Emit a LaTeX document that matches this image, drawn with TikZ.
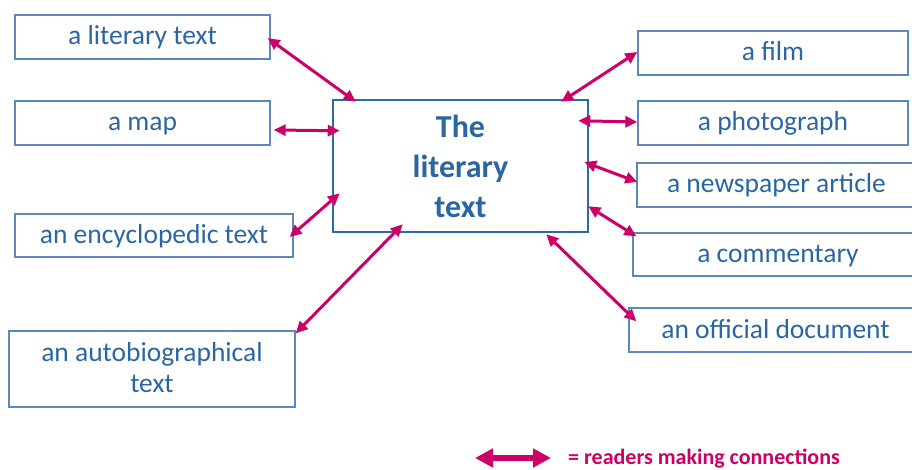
\documentclass[tikz,border=0pt]{standalone}
\usepackage{fontspec}
\setmainfont{Carlito}
\usepackage{tikz}
\usetikzlibrary{arrows.meta}

\definecolor{txtblue}{HTML}{2A66A3}
\definecolor{boxblue}{HTML}{5B89BD}
\definecolor{midblue}{HTML}{2E6AA7}
\definecolor{linkpink}{HTML}{CC0066}

\begin{document}
\begin{tikzpicture}[x=1pt,y=-1pt,
	src/.style={rectangle,draw=boxblue,line width=1.3pt,text=txtblue,font=\fontsize{27.5}{31}\selectfont,inner sep=0pt,align=center,text height=20pt,text depth=4pt},
	link/.style={{Triangle[length=12pt,width=11pt]}-{Triangle[length=12pt,width=11pt]},draw=linkpink,line width=3pt}]
	\useasboundingbox (0,0) rectangle (912,470);
	% sources on the left
	\node[src,minimum width=255pt,minimum height=44pt] (lit) at (142.5,37) {a literary text};
	\node[src,minimum width=255pt,minimum height=44pt] (map) at (142.5,123) {a map};
	\node[src,minimum width=278pt,minimum height=43pt] (enc) at (154,235.5) {an encyclopedic text};
	\node[src,text height=51pt,minimum width=286pt,minimum height=76pt] (auto) at (152,369) {an autobiographical\\text};
	% the text in the middle
	\node[rectangle,draw=midblue,line width=2.5pt,text=txtblue,font=\fontsize{32}{40}\selectfont\bfseries,align=center,inner sep=0pt,minimum width=255pt,minimum height=132pt] (centre) at (460.5,166) {The\\literary\\text};
	% sources on the right
	\node[src,minimum width=270pt,minimum height=44pt] (film) at (773,53) {a film};
	\node[src,minimum width=270pt,minimum height=44pt] (photo) at (773,123) {a photograph};
	\node[src,minimum width=279pt,minimum height=44pt] (news) at (776.5,185) {a newspaper article};
	\node[src,minimum width=290pt,minimum height=43pt] (comm) at (778,254.5) {a commentary};
	\node[src,minimum width=293pt,minimum height=44pt] (off) at (775.5,330) {an official document};

	\path	([shift={(-3,1)}]lit.east)		edge[link]	([shift={(24,3)}]centre.north west)
			([shift={(3,7)}]map.east)		edge[link]	([shift={(8,32)}]centre.north west)
			([shift={(-4,1.5)}]enc.east)		edge[link]	([shift={(8,-40)}]centre.south west)
			([shift={(0,3)}]auto.north east)	edge[link]	([shift={(71,-9)}]centre.south west)
			([shift={(0,-1)}]film.west)		edge[link]	([shift={(-28,3)}]centre.north east)
			([shift={(0,-1)}]photo.west)		edge[link]	([shift={(-11,22)}]centre.north east)
			([shift={(1,-3)}]news.west)		edge[link]	([shift={(-5,-4)}]centre.east)
			([shift={(4,4)}]comm.north west)	edge[link]	([shift={(-1,-27)}]centre.south east)
			([shift={(8,14)}]off.north west)	edge[link]	([shift={(-43,1)}]centre.south east);

	% key
	\coordinate (keyl) at (475,458);
	\coordinate (keyr) at (551,458);
	\path (keyl) edge[draw=linkpink,line width=5.5pt,{Triangle[length=18pt,width=18pt]}-{Triangle[length=18pt,width=18pt]}] (keyr);
	\node[anchor=base west,inner sep=0pt,text=linkpink,font=\fontsize{22}{26}\selectfont\bfseries] (key) at (568,464) {= readers making connections};
\end{tikzpicture}
\end{document}
